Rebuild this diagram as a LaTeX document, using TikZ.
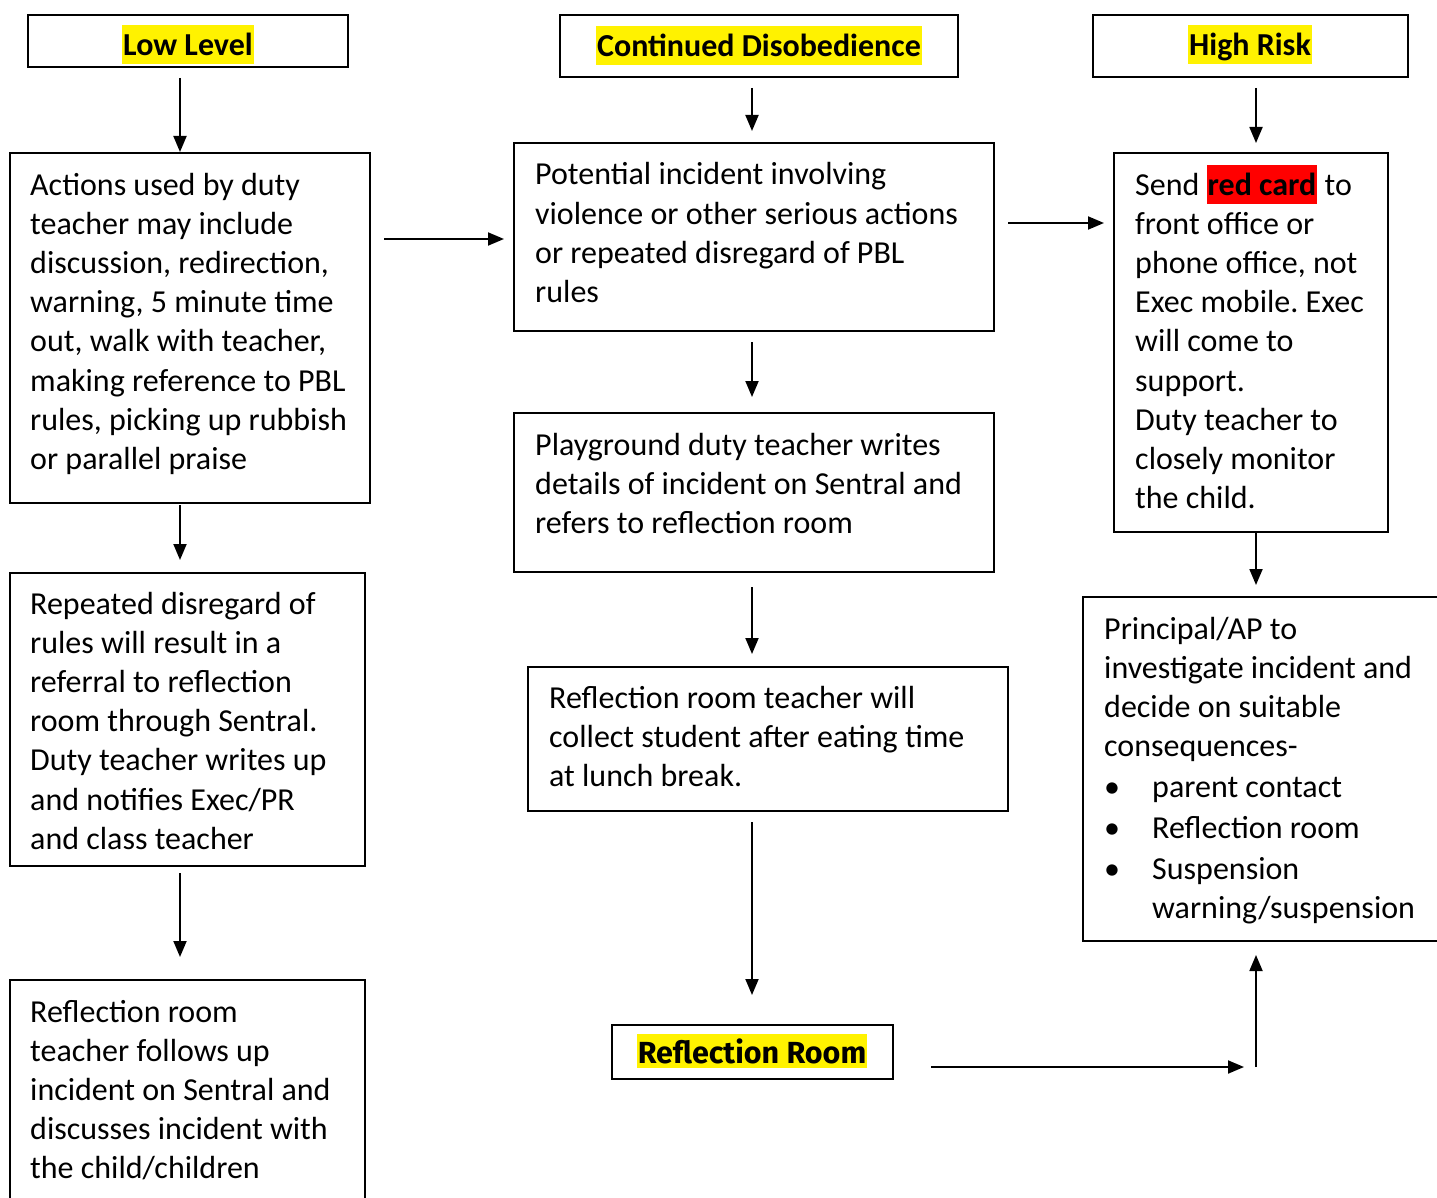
\documentclass[tikz,border=0pt]{standalone}
\usepackage{fontspec}
\setmainfont{Carlito}
\newfontfamily\rrfont{Fira Sans}
\usetikzlibrary{arrows.meta}
\frenchspacing
\begin{document}
\begin{tikzpicture}[x=1pt,y=-1pt,
  box/.style={draw=black,line width=1.7pt,fill=none},
  hbox/.style={draw=black,line width=2.4pt},
  txt/.style={anchor=base west,inner sep=0pt,align=left,font=\fontsize{32}{39.2}\selectfont\frenchspacing},
  hl/.style={fill=yellow,inner xsep=1pt,inner ysep=0pt,text height=30pt,text depth=9pt,font=\fontsize{32}{39}\selectfont\bfseries},
  arr/.style={line width=1.9pt,-{Triangle[length=16pt,width=13pt]}}]
\useasboundingbox (0,0) rectangle (1437,1198);
\clip (0,0) rectangle (1437,1198);
\fill[white] (0,0) rectangle (1437,1198);
% headers
\draw[hbox] (28,15) rectangle (348,67);
\node[hl] (hlow) at (188,45) {Low Level};
\draw[hbox] (560,15) rectangle (958,77);
\node[hl] (hcont) at (759,46) {Continued Disobedience};
\draw[hbox] (1093,15) rectangle (1408,77);
\node[hl] (hhigh) at (1250,45) {High Risk};
% left column
\draw[box] (10,153) rectangle (370,503);
\node[txt] (actions) at (30,469.4) {Actions used by duty\\teacher may include\\discussion, redirection,\\warning, 5 minute time\\out, walk with teacher,\\making reference to PBL\\rules, picking up rubbish\\or parallel praise};
\draw[box] (10,573) rectangle (365,866);
\node[txt] (repeated) at (30,849.2) {Repeated disregard of\\rules will result in a\\referral to reflection\\room through Sentral.\\Duty teacher writes up\\and notifies Exec/PR\\and class teacher};
\draw[box] (10,980) rectangle (365,1230);
\node[txt] (follow) at (30,1178.8) {Reflection room\\teacher follows up\\incident on Sentral and\\discusses incident with\\the child/children};
% middle column
\draw[box] (514,143) rectangle (994,331);
\node[txt] (potential) at (535,302.6) {Potential incident involving\\violence or other serious actions\\or repeated disregard of PBL\\rules};
\draw[box] (514,413) rectangle (994,572);
\node[txt] (playground) at (535,533.4) {Playground duty teacher writes\\details of incident on Sentral and\\refers to reflection room};
\draw[box] (528,667) rectangle (1008,811);
\node[txt] (collect) at (549,786.4) {Reflection room teacher will\\collect student after eating time\\at lunch break.};
\draw[box] (612,1025) rectangle (893,1079);
\node[fill=yellow,inner xsep=1pt,inner ysep=0pt,text height=29pt,text depth=5pt,font=\fontsize{30.5}{32}\selectfont\rrfont\bfseries] (rroom) at (752,1051) {Reflection Room};
% right column
\draw[box] (1114,153) rectangle (1388,532);
\node[txt] (send) at (1135,508.6) {Send \setlength{\fboxsep}{0pt}\colorbox{red}{\kern1pt\rule[-9pt]{0pt}{39pt}\bfseries red card\kern1pt} to\\front office or\\phone office, not\\Exec mobile. Exec\\will come to\\support.\\Duty teacher to\\closely monitor\\the child.};
\draw[box] (1083,597) rectangle (1460,941);
\node[txt] (principal) at (1104,756.6) {Principal/AP to\\investigate incident and\\decide on suitable\\consequences-};
\node[txt] (b1) at (1104,797) {•};
\node[txt] (b1t) at (1152,797) {parent contact};
\node[txt] (b2) at (1104,838) {•};
\node[txt] (b2t) at (1152,838) {Reflection room};
\node[txt] (b3) at (1104,879) {•};
\node[txt] (b3t) at (1152,879) {Suspension};
\node[txt] (b4t) at (1152,918) {warning/suspension};
% arrow end points
\coordinate (a1) at (180,78);   \coordinate (a2) at (180,152);
\coordinate (b1s) at (180,505); \coordinate (b1e) at (180,560);
\coordinate (c1) at (180,873);  \coordinate (c2) at (180,957);
\coordinate (d1) at (752,88);   \coordinate (d2) at (752,131);
\coordinate (e1) at (384,239);  \coordinate (e2) at (504,239);
\coordinate (f1) at (752,342);  \coordinate (f2) at (752,397);
\coordinate (g1) at (752,587);  \coordinate (g2) at (752,654);
\coordinate (h1) at (752,822);  \coordinate (h2) at (752,995);
\coordinate (i1) at (931,1067); \coordinate (i2) at (1244,1067);
\coordinate (j1) at (1256,1067);\coordinate (j2) at (1256,955);
\coordinate (k1) at (1008,223); \coordinate (k2) at (1104,223);
\coordinate (l1) at (1256,88);  \coordinate (l2) at (1256,143);
\coordinate (m1) at (1256,533); \coordinate (m2) at (1256,585);
\foreach \s/\e in {a1/a2,b1s/b1e,c1/c2,d1/d2,e1/e2,f1/f2,g1/g2,h1/h2,i1/i2,j1/j2,k1/k2,l1/l2,m1/m2}
  \draw[arr] (\s) -- (\e);
\end{tikzpicture}
\end{document}
